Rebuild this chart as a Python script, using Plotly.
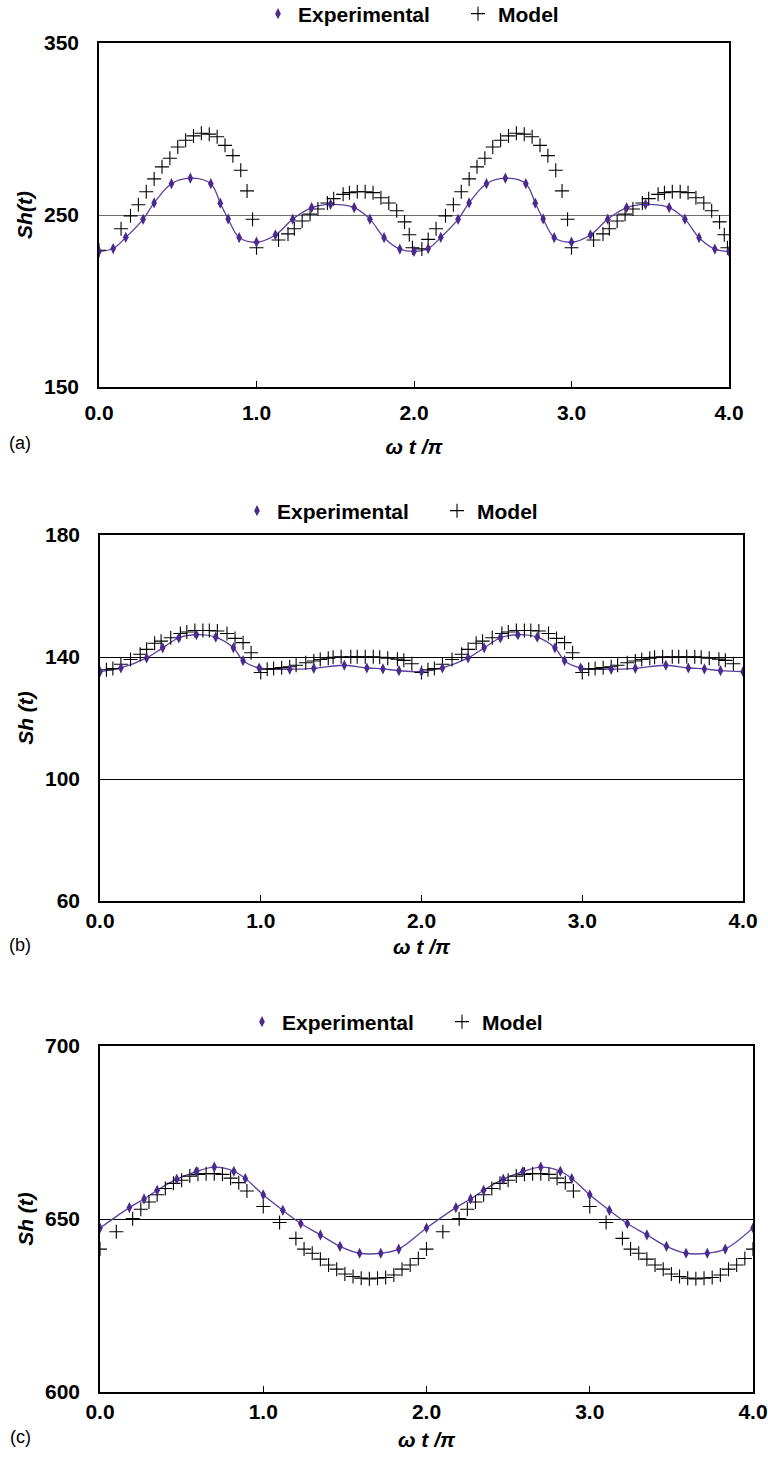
import plotly.graph_objects as go

# ---------------- Panel (a) ----------------
a_exp_x = [0.0, 0.09, 0.17, 0.28, 0.35, 0.46, 0.58, 0.71, 0.77, 0.82, 0.89, 1.0, 1.12, 1.23, 1.35, 1.47, 1.62, 1.72, 1.81, 1.91,
           2.0, 2.09, 2.17, 2.28, 2.35, 2.46, 2.58, 2.71, 2.77, 2.82, 2.89, 3.0, 3.12, 3.23, 3.35, 3.47, 3.62, 3.72, 3.81, 3.91, 4.0]
a_exp_y = [228.8, 230.5, 237.0, 247.5, 257.0, 268.2, 271.4, 268.2, 256.9, 247.7, 236.9, 234.2, 238.4, 247.6, 254.3, 256.2, 254.3, 247.6, 236.8, 230.2,
           228.8, 230.5, 237.0, 247.5, 257.0, 268.2, 271.4, 268.2, 256.9, 247.7, 236.9, 234.2, 238.4, 247.6, 254.3, 256.2, 254.3, 247.6, 236.8, 230.2, 228.8]

a_mod_x = [0.0, 0.14, 0.2, 0.25, 0.3, 0.35, 0.4, 0.45, 0.5, 0.55, 0.6, 0.65, 0.7, 0.75, 0.8, 0.85, 0.9, 0.94, 0.975, 1.0,
           1.14, 1.2, 1.24, 1.29, 1.34, 1.39, 1.45, 1.49, 1.55, 1.59, 1.64, 1.69, 1.74, 1.79, 1.84, 1.89, 1.94, 1.97, 1.99,
           2.05, 2.09, 2.14, 2.2, 2.25, 2.3, 2.35, 2.4, 2.45, 2.5, 2.55, 2.6, 2.65, 2.7, 2.75, 2.8, 2.85, 2.9, 2.94, 2.975, 3.0,
           3.14, 3.2, 3.24, 3.29, 3.34, 3.39, 3.45, 3.49, 3.55, 3.59, 3.64, 3.69, 3.74, 3.79, 3.84, 3.89, 3.94, 3.97, 3.99]
a_mod_y = [229.5, 242.0, 249.5, 256.0, 263.5, 271.0, 278.0, 283.0, 289.5, 293.5, 296.0, 297.5, 297.0, 295.5, 290.5, 284.5, 276.0, 264.0, 247.5, 231.0,
           235.5, 239.0, 242.0, 246.5, 250.5, 253.5, 257.0, 259.5, 262.0, 263.0, 263.5, 263.5, 263.0, 260.0, 257.0, 252.5, 246.0, 238.5, 231.0,
           230.3, 235.8, 242.0, 249.5, 256.0, 263.5, 271.0, 278.0, 283.0, 289.5, 293.5, 296.0, 297.5, 297.0, 295.5, 290.5, 284.5, 276.0, 264.0, 247.5, 231.0,
           235.5, 239.0, 242.0, 246.5, 250.5, 253.5, 257.0, 259.5, 262.0, 263.0, 263.5, 263.5, 263.0, 260.0, 257.0, 252.5, 246.0, 238.5, 231.0]

# ---------------- Panel (b) ----------------
b_exp_x = [0.0, 0.13, 0.29, 0.39, 0.49, 0.6, 0.72, 0.83, 0.89, 0.99, 1.18, 1.33, 1.52, 1.66, 1.76, 1.86,
           2.0, 2.13, 2.29, 2.39, 2.49, 2.6, 2.72, 2.83, 2.89, 2.99, 3.18, 3.33, 3.52, 3.66, 3.76, 3.86, 4.0]
b_exp_y = [135.2, 136.4, 139.7, 143.0, 146.3, 147.3, 146.5, 143.0, 138.8, 136.4, 136.0, 136.3, 137.3, 136.4, 136.1, 135.5,
           135.2, 136.4, 139.7, 143.0, 146.3, 147.3, 146.5, 143.0, 138.8, 136.4, 136.0, 136.3, 137.3, 136.4, 136.1, 135.5, 135.2]

b_mod_x = [0.04, 0.08, 0.13, 0.19, 0.25, 0.29, 0.34, 0.38, 0.44, 0.5, 0.54, 0.59, 0.64, 0.68, 0.73, 0.79, 0.84, 0.89, 0.94, 1.0,
           1.04, 1.08, 1.13, 1.18, 1.22, 1.28, 1.33, 1.37, 1.42, 1.45, 1.5, 1.56, 1.6, 1.65, 1.7, 1.74, 1.79, 1.85, 1.89, 1.94, 2.0,
           2.04, 2.08, 2.13, 2.19, 2.25, 2.29, 2.34, 2.38, 2.44, 2.5, 2.54, 2.59, 2.64, 2.68, 2.73, 2.79, 2.84, 2.89, 2.94, 3.0,
           3.04, 3.08, 3.13, 3.18, 3.22, 3.28, 3.33, 3.37, 3.42, 3.45, 3.5, 3.56, 3.6, 3.65, 3.7, 3.74, 3.79, 3.85, 3.89, 3.94]
b_mod_y = [135.8, 136.2, 137.6, 139.2, 140.9, 142.5, 144.5, 145.2, 146.3, 147.7, 148.2, 148.7, 148.7, 148.7, 148.5, 147.7, 146.1, 144.7, 141.4, 134.9,
           136.0, 136.2, 136.5, 136.8, 137.3, 138.1, 138.7, 139.2, 139.6, 139.9, 140.1, 140.1, 140.1, 140.1, 140.1, 139.9, 139.6, 139.3, 138.9, 137.8, 134.9,
           135.8, 136.2, 137.6, 139.2, 140.9, 142.5, 144.5, 145.2, 146.3, 147.7, 148.2, 148.7, 148.7, 148.7, 148.5, 147.7, 146.1, 144.7, 141.4, 134.9,
           136.0, 136.2, 136.5, 136.8, 137.3, 138.1, 138.7, 139.2, 139.6, 139.9, 140.1, 140.1, 140.1, 140.1, 140.1, 139.9, 139.6, 139.3, 138.9, 137.8]

# ---------------- Panel (c) ----------------
c_exp_x = [0.0, 0.18, 0.27, 0.35, 0.47, 0.59, 0.7, 0.82, 0.89, 1.0, 1.12, 1.23, 1.35, 1.47, 1.59, 1.72, 1.83,
           2.0, 2.18, 2.27, 2.35, 2.47, 2.59, 2.7, 2.82, 2.89, 3.0, 3.12, 3.23, 3.35, 3.47, 3.59, 3.72, 3.83, 4.0]
c_exp_y = [647.4, 653.3, 655.8, 658.3, 661.5, 663.7, 665.0, 663.8, 661.7, 657.0, 652.5, 648.7, 645.4, 642.1, 640.1, 640.1, 641.3,
           647.4, 653.3, 655.8, 658.3, 661.5, 663.7, 665.0, 663.8, 661.7, 657.0, 652.5, 648.7, 645.4, 642.1, 640.1, 640.1, 641.3, 647.4]

c_mod_x = [0.0, 0.1, 0.2, 0.25, 0.3, 0.35, 0.4, 0.45, 0.5, 0.55, 0.6, 0.65, 0.7, 0.75, 0.8, 0.85, 0.9, 1.0, 1.1, 1.2,
           1.25, 1.3, 1.35, 1.4, 1.45, 1.5, 1.55, 1.6, 1.65, 1.7, 1.75, 1.8, 1.85, 1.9, 1.95,
           2.0, 2.1, 2.2, 2.25, 2.3, 2.35, 2.4, 2.45, 2.5, 2.55, 2.6, 2.65, 2.7, 2.75, 2.8, 2.85, 2.9, 3.0, 3.1, 3.2,
           3.25, 3.3, 3.35, 3.4, 3.45, 3.5, 3.55, 3.6, 3.65, 3.7, 3.75, 3.8, 3.85, 3.9, 3.95, 4.0]
c_mod_y = [641.3, 646.3, 650.1, 652.8, 654.9, 657.0, 658.8, 660.3, 661.2, 662.4, 662.9, 663.1, 663.1, 662.9, 661.8, 660.5, 658.1, 653.6, 649.0, 644.4,
           641.3, 640.1, 638.4, 636.7, 635.5, 634.1, 633.4, 632.9, 632.7, 632.9, 633.1, 633.8, 635.5, 636.7, 638.6,
           641.3, 646.3, 650.1, 652.8, 654.9, 657.0, 658.8, 660.3, 661.2, 662.4, 662.9, 663.1, 663.1, 662.9, 661.8, 660.5, 658.1, 653.6, 649.0, 644.4,
           641.3, 640.1, 638.4, 636.7, 635.5, 634.1, 633.4, 632.9, 632.7, 632.9, 633.1, 633.8, 635.5, 636.7, 638.6, 641.3]

x_ticks = [0, 1, 2, 3, 4]
x_tick_text = ["0.0", "1.0", "2.0", "3.0", "4.0"]

PURPLE = "#4a2a8c"
FONT = "Liberation Sans, Arial, sans-serif"
W, H = 768, 1459

panels = [
    dict(ex=a_exp_x, ey=a_exp_y, mx=a_mod_x, my=a_mod_y, yr=[150, 350], dt=100, ytitle="<b><i>Sh(t)</i></b>",
         label="(a)", xd=(99, 729), yd=(43, 387), grid="#707070", leg_y=14, leg_x=458,
         lab_y=443, tstand=6, xtstand=16),
    dict(ex=b_exp_x, ey=b_exp_y, mx=b_mod_x, my=b_mod_y, yr=[60, 180], dt=40, ytitle="<b><i>Sh (t)</i></b>",
         label="(b)", xd=(100, 743), yd=(535, 901), grid="#000000", leg_y=511, leg_x=437,
         lab_y=945, tstand=0, xtstand=8),
    dict(ex=c_exp_x, ey=c_exp_y, mx=c_mod_x, my=c_mod_y, yr=[600, 700], dt=50, ytitle="<b><i>Sh (t)</i></b>",
         label="(c)", xd=(100, 753), yd=(1046, 1392), grid="#000000", leg_y=1022, leg_x=442,
         lab_y=1437, tstand=0, xtstand=10),
]

fig = go.Figure()
layout = dict(width=W, height=H, margin=dict(l=0, r=0, t=0, b=0, autoexpand=False),
              paper_bgcolor="white", plot_bgcolor="white",
              font=dict(family=FONT, size=21, color="black"), annotations=[])

for i, p in enumerate(panels, start=1):
    sfx = "" if i == 1 else str(i)
    xa, ya = "x" + sfx, "y" + sfx
    leg = "legend" + sfx
    fig.add_trace(go.Scatter(x=p["ex"], y=p["ey"], mode="lines", line=dict(color="#5b40a0", width=1.3, shape="spline"),
                             xaxis=xa, yaxis=ya, showlegend=False, hoverinfo="skip"))
    fig.add_trace(go.Scatter(x=p["mx"], y=p["my"], mode="markers", name="Model",
                             marker=dict(symbol="cross-thin", size=10, line=dict(color="black", width=1.1)),
                             xaxis=xa, yaxis=ya, legend=leg, legendrank=2))
    fig.add_trace(go.Scatter(x=p["ex"], y=p["ey"], mode="markers", name="Experimental",
                             marker=dict(symbol="diamond-tall", size=8, color=PURPLE),
                             xaxis=xa, yaxis=ya, legend=leg, legendrank=1))
    x0, x1 = p["xd"]
    y0, y1 = p["yd"]
    layout["xaxis" + sfx] = dict(domain=[x0 / W, x1 / W], anchor=ya, range=[0, 4], tickvals=x_ticks, ticktext=x_tick_text,
                                 ticks="inside", ticklen=6, tickcolor="black", showline=True, mirror=True,
                                 linecolor="black", linewidth=1.5, showgrid=False, zeroline=False, automargin=False,
                                 tickfont=dict(size=21, family=FONT, weight="bold"), ticklabelstandoff=p["tstand"],
                                 title=dict(text="<b><i>ω t /π</i></b>", font=dict(size=21, family=FONT),
                                            standoff=p["xtstand"]))
    layout["yaxis" + sfx] = dict(domain=[1 - y1 / H, 1 - y0 / H], anchor=xa, range=p["yr"], dtick=p["dt"],
                                 tick0=p["yr"][0], showline=True, mirror=True, linecolor="black", linewidth=1.5,
                                 showgrid=True, gridcolor=p["grid"], gridwidth=1.2, zeroline=False, ticks="",
                                 automargin=False,
                                 tickfont=dict(size=21, family=FONT, weight="bold"), ticklabelstandoff=14,
                                 title=dict(text=p["ytitle"], font=dict(size=21, family=FONT), standoff=6))
    layout[leg] = dict(orientation="h", x=p["leg_x"] / W, xanchor="center", y=1 - p["leg_y"] / H, yanchor="middle",
                       font=dict(size=21, family=FONT, weight="bold"), bgcolor="rgba(0,0,0,0)",
                       traceorder="normal", entrywidth=155, itemsizing="trace")
    layout["annotations"].append(dict(text=p["label"], x=20 / W, y=1 - p["lab_y"] / H, xref="paper", yref="paper",
                                      showarrow=False, font=dict(size=18, family=FONT), xanchor="center", yanchor="middle"))

fig.update_layout(**layout)
fig.write_html("out.html")
